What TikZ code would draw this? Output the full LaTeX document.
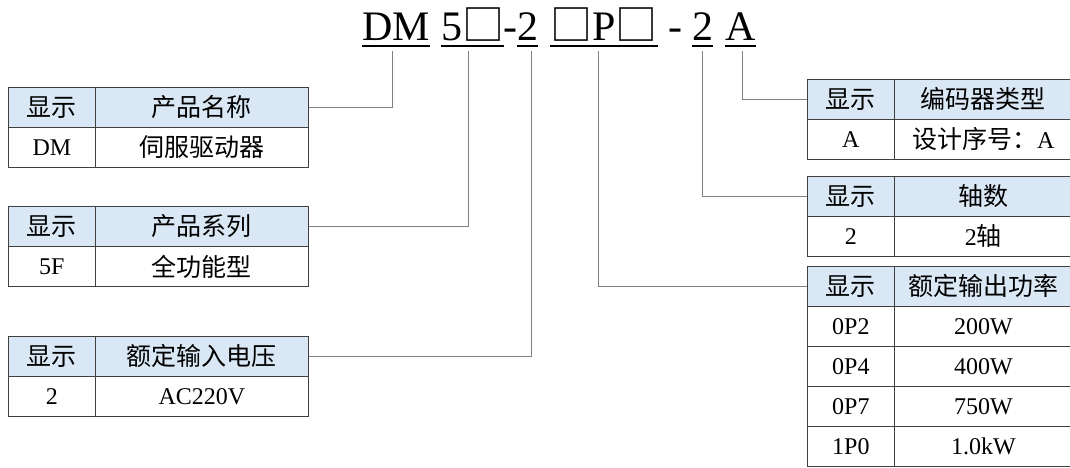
\documentclass[tikz,border=0pt]{standalone}
\usepackage{fontspec}
\setmainfont{Liberation Serif}
\newfontfamily\cjk{Noto Sans CJK SC}
\definecolor{headblue}{HTML}{DAE8F5}
\definecolor{tabline}{HTML}{404040}
\definecolor{tapgray}{HTML}{808080}
\newcommand{\zh}[1]{{\cjk\fontsize{25pt}{25pt}\selectfont #1}}
\newcommand{\blank}{{\cjk □}}
\begin{document}
\begin{tikzpicture}[x=1pt,y=-1pt,
  part/.style={inner sep=0pt,anchor=base west,font=\fontsize{42pt}{42pt}\selectfont},
  uline/.style={line width=1.5pt},
  cell/.style={draw=tabline,line width=0.8pt,minimum height=40pt,inner sep=0pt,anchor=north west,font=\fontsize{24pt}{24pt}\selectfont},
  keycell/.style={cell,minimum width=87pt},
  leftval/.style={cell,minimum width=213pt},
  rightval/.style={cell,minimum width=178pt},
  head/.style={fill=headblue},
  tap/.style={draw=tapgray,line width=0.8pt}]
\useasboundingbox (0,0) rectangle (1070,467);

\node[part] (dm) at (362,40) {DM};
\node[part] (ser) at (441,40) {5\blank};
\node[part] (dashA) at (503,40) {-};
\node[part] (volt) at (517,40) {2};
\node[part] (pow) at (550,40) {\blank P\blank};
\node[part] (dashB) at (668,40) {-};
\node[part] (axis) at (692,40) {2};
\node[part] (enc) at (725,40) {A};

\draw[uline] ([yshift=-6pt]dm.base west) -- ([yshift=-6pt]dm.base east);
\draw[uline] ([yshift=-6pt]ser.base west) -- ([yshift=-6pt]ser.base east);
\draw[uline] ([yshift=-6pt]volt.base west) -- ([yshift=-6pt]volt.base east);
\draw[uline] ([yshift=-6pt]pow.base west) -- ([yshift=-6pt]pow.base east);
\draw[uline] ([yshift=-6pt]axis.base west) -- ([yshift=-6pt]axis.base east);
\draw[uline] ([yshift=-6pt]enc.base west) -- ([yshift=-6pt]enc.base east);

\coordinate (dmtap) at (392,51);
\coordinate (sertap) at (468,51);
\coordinate (volttap) at (531,51);
\coordinate (powtap) at (598,51);
\coordinate (axistap) at (702,51);
\coordinate (enctap) at (742,51);

\node[keycell,head] (nameK) at (8,87) {\zh{显示}};
\node[leftval,head] (nameH) at (95,87) {\zh{产品名称}};
\node[keycell] (nameK1) at (8,127) {DM};
\node[leftval] (nameV1) at (95,127) {\zh{伺服驱动器}};

\node[keycell,head] (serK) at (8,206) {\zh{显示}};
\node[leftval,head] (serH) at (95,206) {\zh{产品系列}};
\node[keycell] (serK1) at (8,246) {5F};
\node[leftval] (serV1) at (95,246) {\zh{全功能型}};

\node[keycell,head] (voltK) at (8,336) {\zh{显示}};
\node[leftval,head] (voltH) at (95,336) {\zh{额定输入电压}};
\node[keycell] (voltK1) at (8,376) {2};
\node[leftval] (voltV1) at (95,376) {AC220V};

\node[keycell,head] (encK) at (807,79) {\zh{显示}};
\node[rightval,head] (encH) at (894,79) {\zh{编码器类型}};
\node[keycell] (encK1) at (807,119) {A};
\node[rightval] (encV1) at (894,119) {\zh{设计序号：}A};

\node[keycell,head] (axisK) at (807,176) {\zh{显示}};
\node[rightval,head] (axisH) at (894,176) {\zh{轴数}};
\node[keycell] (axisK1) at (807,216) {2};
\node[rightval] (axisV1) at (894,216) {2\zh{轴}};

\node[keycell,head] (powK) at (807,266) {\zh{显示}};
\node[rightval,head] (powH) at (894,266) {\zh{额定输出功率}};
\node[keycell] (powK1) at (807,306) {0P2};
\node[rightval] (powV1) at (894,306) {200W};
\node[keycell] (powK2) at (807,346) {0P4};
\node[rightval] (powV2) at (894,346) {400W};
\node[keycell] (powK3) at (807,386) {0P7};
\node[rightval] (powV3) at (894,386) {750W};
\node[keycell] (powK4) at (807,426) {1P0};
\node[rightval] (powV4) at (894,426) {1.0kW};

\draw[tap] (nameH.east) -| (dmtap);
\draw[tap] (serH.east) -| (sertap);
\draw[tap] (voltH.east) -| (volttap);
\draw[tap] (powK.west) -| (powtap);
\draw[tap] (axisK.west) -| (axistap);
\draw[tap] (encK.west) -| (enctap);
\end{tikzpicture}
\end{document}
